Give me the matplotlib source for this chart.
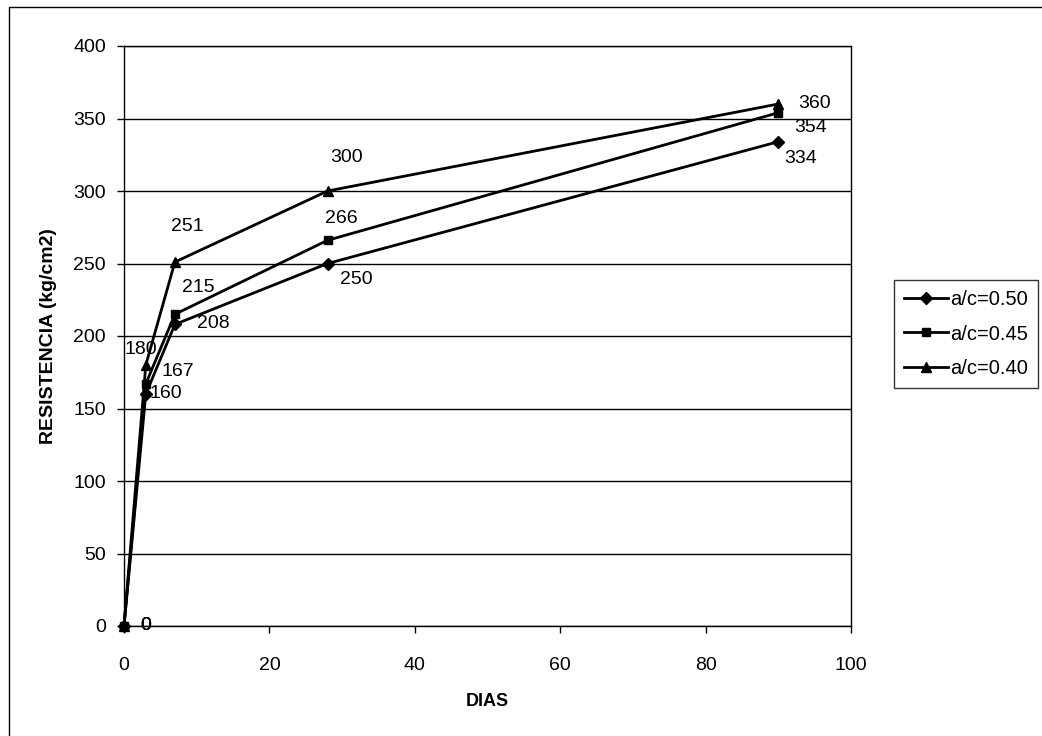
import matplotlib
matplotlib.use("Agg")
import matplotlib.pyplot as plt
from matplotlib.patches import Rectangle

plt.rcParams['font.family'] = ['Liberation Sans', 'DejaVu Sans']

# Curing age (days) and compressive strength for each water/cement ratio
dias = [0, 3, 7, 28, 90]
res_050 = [0, 160, 208, 250, 334]
res_045 = [0, 167, 215, 266, 354]
res_040 = [0, 180, 251, 300, 360]

series = [
    ("a/c=0.50", res_050, "D", 6.5),
    ("a/c=0.45", res_045, "s", 6),
    ("a/c=0.40", res_040, "^", 7),
]

# Data-label offsets (pixels, right / up) for each point of each series
label_offsets = {
    "a/c=0.50": [(22, 0), (20, 1), (38, 1), (29, -16), (22, -17)],
    "a/c=0.45": [(22, 0), (32, 12), (23, 27), (14, 22), (32, -15)],
    "a/c=0.40": [(22, 0), (-5, 15), (12, 36), (19, 33), (36, 1)],
}

fig = plt.figure(figsize=(10.42, 7.36), dpi=100)
ax = fig.add_axes([124 / 1042, 110 / 736, (851 - 124) / 1042, (626 - 46) / 736])

# Outer chart frame
fig.patches.append(Rectangle((9 / 1042, -0.05), 1.2, 1 - 7 / 736 + 0.05,
                             transform=fig.transFigure, fill=False,
                             edgecolor="black", linewidth=1.0))

handles = []
for name, vals, mk, ms in series:
    h, = ax.plot(dias, vals, color="black", linewidth=2.0, marker=mk,
                 markersize=ms, markerfacecolor="black",
                 markeredgecolor="black", label=name, clip_on=False, zorder=3)
    handles.append(h)
    for x, y, (dx, dy) in zip(dias, vals, label_offsets[name]):
        ax.annotate(str(y), (x, y), xytext=(dx, dy), textcoords="offset pixels",
                    ha="center", va="center", fontsize=14, color="black",
                    zorder=4)

ax.set_xlim(0, 100)
ax.set_ylim(0, 400)
ax.set_xticks(range(0, 101, 20))
ax.set_yticks(range(0, 401, 50))
ax.yaxis.grid(True, color="black", linewidth=1.0)
ax.set_axisbelow(True)
for s in ax.spines.values():
    s.set_color("black")
    s.set_linewidth(1.0)
ax.tick_params(axis="both", direction="out", length=5, width=1.0,
               labelsize=14, colors="black")
ax.tick_params(axis="x", pad=17)
ax.tick_params(axis="y", pad=8)

ax.set_xlabel("DIAS", fontsize=13, fontweight="bold", labelpad=14)
ax.set_ylabel("RESISTENCIA (kg/cm2)", fontsize=14, fontweight="bold",
              labelpad=12)

leg = fig.legend(handles=handles, loc="center",
                 bbox_to_anchor=(966 / 1042, 1 - 334 / 736),
                 fontsize=14.5, frameon=True, fancybox=False, shadow=False,
                 handlelength=2.2, handletextpad=0.1, labelspacing=0.75,
                 borderpad=0.5, borderaxespad=0)
leg.get_frame().set_edgecolor("black")
leg.get_frame().set_linewidth(1.0)

fig.savefig("out.png", dpi=100, facecolor="white")
